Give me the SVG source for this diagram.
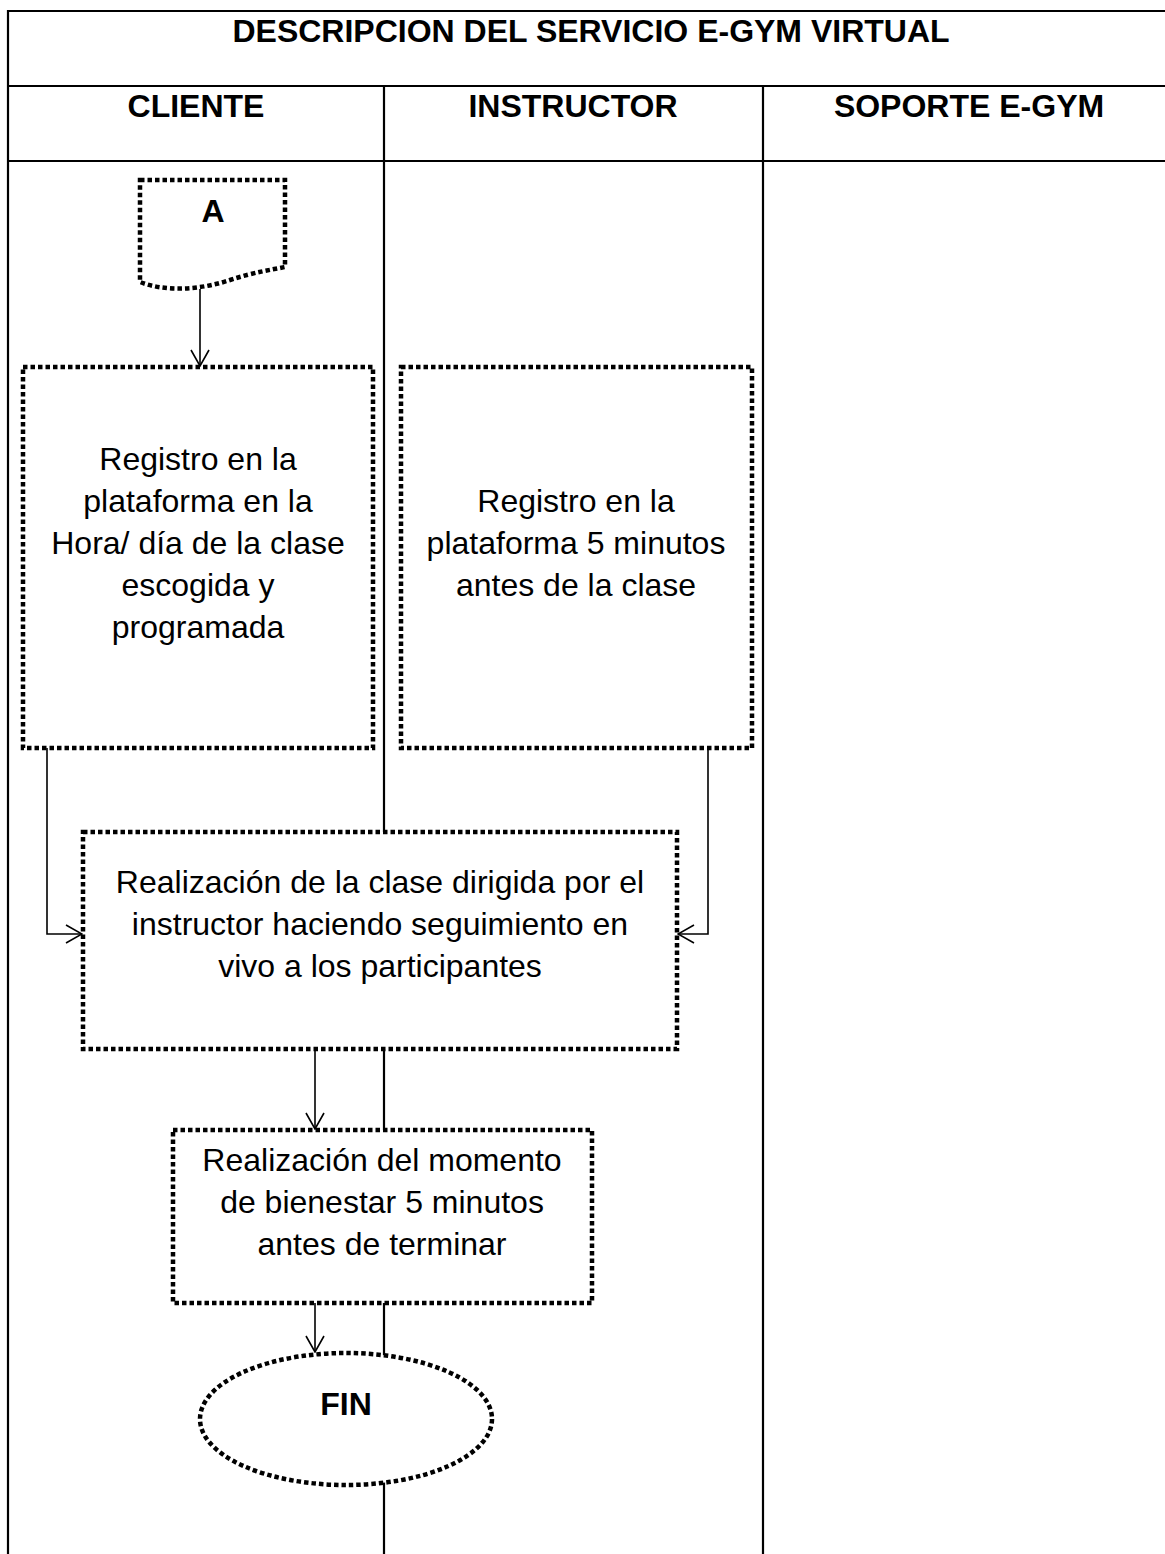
<svg xmlns="http://www.w3.org/2000/svg" width="1165" height="1554" viewBox="0 0 1165 1554">
<style>
.tbl{stroke:#000;stroke-width:2.2;fill:none}
.hdr{font-family:"Liberation Sans",Arial,sans-serif;font-size:32px;font-weight:bold;text-anchor:middle;fill:#000}
.txt{font-family:"Liberation Sans",Arial,sans-serif;font-size:32px;text-anchor:middle;fill:#000}
.dot{fill:#fff;stroke:#000;stroke-width:4.5;stroke-dasharray:4.5 3}
.con{fill:none;stroke:#000;stroke-width:1.6}
</style>
<defs>
<marker id="arr" viewBox="0 0 18 20" refX="17" refY="10" markerWidth="18" markerHeight="20" markerUnits="userSpaceOnUse" orient="auto">
<path d="M1,1 L17,10 L1,19" fill="none" stroke="#000" stroke-width="1.6"/>
</marker>
</defs>
<rect width="1165" height="1554" fill="#fff"/>
<g id="table">
<path class="tbl" d="M1175,11 H8 V1554 M8,86 H1175 M8,161 H1175 M384,86 V1554 M763,86 V1554"/>
<text class="hdr" x="591" y="42">DESCRIPCION DEL SERVICIO E-GYM VIRTUAL</text>
<text class="hdr" x="196" y="117">CLIENTE</text>
<text class="hdr" x="573" y="117">INSTRUCTOR</text>
<text class="hdr" x="969" y="117">SOPORTE E-GYM</text>
</g>
<g id="connectors">
<path class="con" d="M200,289 V366" marker-end="url(#arr)"/>
<path class="con" d="M47,748 V934 H82" marker-end="url(#arr)"/>
<path class="con" d="M708,748 V934 H678" marker-end="url(#arr)"/>
<path class="con" d="M315,1049 V1129" marker-end="url(#arr)"/>
<path class="con" d="M315,1303 V1352" marker-end="url(#arr)"/>
</g>
<g id="node-A">
<path class="dot" d="M140,180 H285 V267 C270,270 255,272 230,280 C200,290 165,292 140,282 Z"/>
<text class="hdr" x="213" y="222">A</text>
</g>
<g id="node-registro-cliente">
<rect class="dot" x="23" y="367" width="350" height="381"/>
<text class="txt" x="198" y="470">Registro en la</text>
<text class="txt" x="198" y="512">plataforma en la</text>
<text class="txt" x="198" y="554">Hora/ día de la clase</text>
<text class="txt" x="198" y="596">escogida y</text>
<text class="txt" x="198" y="638">programada</text>
</g>
<g id="node-registro-instructor">
<rect class="dot" x="401" y="367" width="351" height="381"/>
<text class="txt" x="576" y="512">Registro en la</text>
<text class="txt" x="576" y="554">plataforma 5 minutos</text>
<text class="txt" x="576" y="596">antes de la clase</text>
</g>
<g id="node-clase">
<rect class="dot" x="83" y="832" width="594" height="217"/>
<text class="txt" x="380" y="893">Realización de la clase dirigida por el</text>
<text class="txt" x="380" y="935">instructor haciendo seguimiento en</text>
<text class="txt" x="380" y="977">vivo a los participantes</text>
</g>
<g id="node-bienestar">
<rect class="dot" x="173" y="1130" width="419" height="173"/>
<text class="txt" x="382" y="1171">Realización del momento</text>
<text class="txt" x="382" y="1213">de bienestar 5 minutos</text>
<text class="txt" x="382" y="1255">antes de terminar</text>
</g>
<g id="node-fin">
<ellipse class="dot" cx="346" cy="1419" rx="146" ry="66"/>
<text class="hdr" x="346" y="1415">FIN</text>
</g>
</svg>
